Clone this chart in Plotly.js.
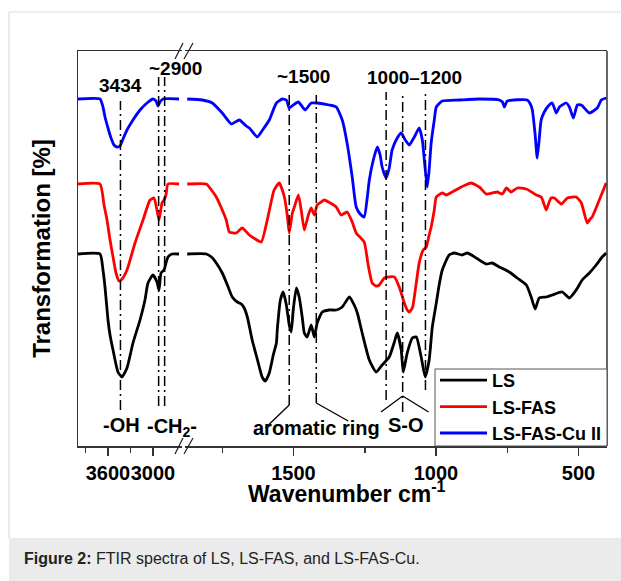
<!DOCTYPE html>
<html>
<head>
<meta charset="utf-8">
<script src="https://cdn.plot.ly/plotly-3.0.1.min.js"></script>
<style>html,body{margin:0;padding:0;background:#fff;}#chart{width:621px;height:581px;}</style>
</head>
<body>
<div id="chart"></div>
<script>
// ---- Data (wavenumber cm-1, relative transmittance in arbitrary units) ----
// Left axis segment (4000 - 2620 cm-1)
const lsHighWn    = [4000,3707,3667,3640,3600,3573,3533,3467,3413,3347,3267,3173,3107,3067,3000,2947,2920,2893,2853,2827,2800,2747,2653];
const lsHighT     = [192,192,176,159,126,111,96,74,69,78,103,126,146,163,171,164,156,173,176,183,189,192,192];
const fasHighWn   = [4000,3707,3653,3613,3573,3533,3493,3453,3413,3347,3240,3133,3040,2987,2947,2920,2880,2853,2827,2800,2653];
const fasHighT    = [262,262,241,226,206,189,173,165,167,176,203,226,246,248,236,226,243,246,251,262,262];
const cuHighWn    = [4000,3707,3667,3640,3600,3560,3520,3480,3440,3400,3347,3267,3173,3080,3000,2960,2933,2907,2867,2653];
const cuHighT     = [347,347,339,329,318,308,301,299,300,307,316,326,336,343,347,345,340,344,347,347];

// Right axis segment (1880 - 400 cm-1)
const lsLowWn  = [1873,1806,1788,1771,1750,1732,1715,1697,1683,1673,1662,1645,1631,1620,1610,1599,1585,1571,1560,1557,1546,1536,1525,1515,1508,1501,1490,1480,1469,1462,1452,1438,1427,1417,1399,1375,1350,1329,1304,1287,1276,1259,1234,1210,1189,1164,1146,1136,1122,1115,1101,1083,1069,1052,1038,1024,1013,999,989,978,954,936,908,890,859,824,803,778,743,715,683,666,652,638,613,592,557,532,508,487,462,438,417,403];
const lsLowT   = [192,192,189,183,173,161,149,144,142,138,129,106,91,79,69,65,73,91,103,116,146,154,141,121,114,136,158,149,128,113,109,121,109,123,134,136,136,139,149,141,133,113,86,74,81,89,104,113,96,74,93,108,109,89,69,86,119,143,161,176,191,193,191,193,188,182,183,179,174,168,161,149,137,148,149,151,154,148,156,166,173,181,189,193];
const fasLowWn = [1873,1806,1788,1771,1753,1736,1725,1701,1680,1655,1634,1613,1592,1568,1550,1532,1522,1515,1504,1497,1483,1473,1462,1448,1438,1427,1417,1403,1392,1371,1350,1333,1312,1294,1280,1252,1238,1224,1210,1199,1181,1146,1129,1111,1101,1094,1083,1076,1059,1045,1034,1024,1017,1006,999,978,964,943,918,897,876,848,824,803,785,767,753,736,715,683,648,631,620,613,603,596,585,560,539,508,490,480,469,459,452,427,403];
const fasLowT  = [262,262,256,249,238,226,214,213,218,211,207,204,226,256,263,249,231,213,233,239,251,236,216,231,238,231,241,244,246,243,239,231,234,224,213,204,181,163,160,161,168,169,159,143,136,134,138,149,183,196,199,211,219,236,249,253,251,254,258,261,263,259,252,253,254,252,258,254,258,257,251,249,241,236,244,248,248,242,248,249,243,233,223,227,229,246,263];
const cuLowWn  = [1873,1820,1785,1750,1718,1690,1666,1655,1627,1606,1585,1560,1539,1525,1515,1501,1483,1459,1438,1417,1375,1350,1329,1312,1294,1280,1266,1252,1241,1234,1220,1206,1196,1189,1175,1164,1154,1136,1122,1108,1094,1076,1059,1048,1041,1031,1024,1017,1006,999,978,918,848,778,767,760,750,680,669,662,652,645,638,631,620,606,592,578,567,543,532,518,504,490,462,434,420,402];
const cuLowT   = [347,346,343,333,322,326,320,318,309,317,326,343,347,346,338,341,344,336,343,343,341,339,326,303,269,239,232,229,249,266,286,299,291,279,268,278,296,308,313,306,301,309,318,306,286,259,276,303,326,339,345,346,347,346,344,339,345,346,342,336,311,288,306,326,334,340,343,333,339,343,339,328,341,341,333,338,346,348];

// Marked bands
const bandOH   = 3434;
const bandCH2  = [2925, 2845];
const bandArom = [1515, 1420];
const bandSO   = [1175, 1117, 1037];

const seriesNames  = ['LS', 'LS-FAS', 'LS-FAS-Cu II'];
const seriesColors = ['#000000', '#ff0000', '#0000ff'];
const leftTicks  = [3600, 3000];
const leftMinor  = [3900, 3300];
const rightTicks = [1500, 1000, 500];
const rightMinor = [1750, 1250, 750];

// ---- Geometry helpers (pixel -> paper for decorations) ----
const PL = 78, PR = 607, PT = 51, PB = 446;
const px = x => (x - PL) / (PR - PL);
const py = y => (PB - y) / (PB - PT);

const lw = 2.8;
const mk = (x, y, i, axis, show) => ({
  x: x, y: y, type: 'scatter', mode: 'lines', xaxis: axis, yaxis: 'y',
  name: seriesNames[i], legendgroup: seriesNames[i], showlegend: show,
  line: {color: seriesColors[i], width: lw, shape: 'spline', smoothing: 0.5},
  hoverinfo: 'x+y+name'
});

const traces = [
  mk(lsHighWn, lsHighT, 0, 'x', true),
  mk(fasHighWn, fasHighT, 1, 'x', true),
  mk(cuHighWn, cuHighT, 2, 'x', true),
  mk(lsLowWn, lsLowT, 0, 'x2', false),
  mk(fasLowWn, fasLowT, 1, 'x2', false),
  mk(cuLowWn, cuLowT, 2, 'x2', false)
];

const DD = '10px,4px,2px,4px';
const vline = (xref, x, y0, y1) => ({type: 'line', xref: xref, yref: 'y', x0: x, x1: x, y0: y0, y1: y1,
  line: {color: '#000', width: 1.5, dash: DD}});
const seg = (xref, xa, ya, xb, yb) => ({type: 'line', xref: xref, yref: 'y', x0: xa, x1: xb, y0: ya, y1: yb,
  line: {color: '#000', width: 1.3}});
const pline = (x0, y0, x1, y1, color, w) => ({type: 'line', xref: 'paper', yref: 'paper',
  x0: px(x0), y0: py(y0), x1: px(x1), y1: py(y1), line: {color: color, width: w}});

const shapes = [
  // frame of the figure and caption band
  {type: 'rect', xref: 'paper', yref: 'paper', x0: px(9), x1: px(630), y0: py(538), y1: py(590),
   fillcolor: '#ebebeb', line: {width: 0}, layer: 'below'},
  pline(9, 12, 9, 538, '#dddddd', 1.2),
  pline(9, 12, 630, 12, '#dddddd', 1.2),
  // right border of plot
  pline(PR, PT, PR, PB, '#333333', 1.5),
  // axis break marks
  pline(175, 59, 183, 43, '#222', 1.2), pline(184, 59, 193, 43, '#222', 1.2),
  pline(175, 454, 183, 438, '#222', 1.2), pline(184, 454, 193, 438, '#222', 1.2),
  // dash-dot band markers
  vline('x', bandOH, 36, 345),
  vline('x', bandCH2[0], 40, 369), vline('x', bandCH2[1], 40, 369),
  vline('x2', bandArom[0], 41, 351), vline('x2', bandArom[1], 43, 351),
  vline('x2', bandSO[0], 46, 354), vline('x2', bandSO[1], 34, 354), vline('x2', bandSO[2], 56, 354),
  // brackets
  seg('x2', bandArom[0], 41, 1599, 18),
  seg('x2', bandArom[1], 43, 1308, 25),
  seg('x2', bandSO[1], 50, 1193, 34),
  seg('x2', bandSO[1], 50, 1026, 34),
  // legend box
  {type: 'rect', xref: 'paper', yref: 'paper', x0: px(435), x1: px(607), y0: py(446), y1: py(369),
   fillcolor: '#ffffff', line: {color: '#555', width: 1}, layer: 'above'}
];

const bf = (s) => ({family: 'Liberation Sans, Arial, sans-serif', size: s, color: '#000', weight: 'bold'});
const ann = (text, xref, x, yref, y, size, xanchor) => ({text: text, xref: xref, x: x, yref: yref, y: y,
  showarrow: false, font: bf(size), xanchor: xanchor || 'center', yanchor: 'middle'});

const annotations = [
  ann('3434', 'x', bandOH, 'y', 361, 19),
  ann('~2900', 'paper', px(175.5), 'paper', py(68.5), 19),
  ann('~1500', 'x2', 1466, 'y', 369.5, 19),
  ann('1000\u20131200', 'x2', 1076, 'y', 369, 19),
  ann('-OH', 'paper', px(121.5), 'paper', py(425), 20),
  ann('-CH<sub>2</sub>-', 'paper', px(145), 'paper', py(427), 20, 'left'),
  ann('aromatic ring', 'paper', px(316), 'paper', py(428), 20),
  ann('S-O', 'paper', px(406), 'paper', py(425), 20),
  ann('Wavenumber cm<sup>-1</sup>', 'paper', px(347), 'paper', py(492), 23),
  {text: '<b>Figure 2:</b> FTIR spectra of LS, LS-FAS, and LS-FAS-Cu.', xref: 'paper', yref: 'paper',
   x: px(22), y: py(558), xanchor: 'left', yanchor: 'middle', showarrow: false,
   font: {family: 'Liberation Sans, Arial, sans-serif', size: 16, color: '#222'}}
];

const xCommon = {
  showline: true, linecolor: '#333', linewidth: 1.5, mirror: true,
  ticks: 'outside', ticklen: 8, tickwidth: 1.5, tickcolor: '#333',
  tickfont: bf(20), tickangle: 0, showgrid: false, zeroline: false, anchor: 'y'
};

const layout = {
  width: 621, height: 581,
  margin: {l: PL, r: 621 - PR, t: PT, b: 581 - PB},
  paper_bgcolor: '#fff', plot_bgcolor: '#fff',
  showlegend: true,
  xaxis: Object.assign({}, xCommon, {
    domain: [0, px(181.5)], range: [4000, 2620], tickmode: 'array', tickvals: leftTicks,
    minor: {tickmode: 'array', tickvals: leftMinor, ticks: 'outside', ticklen: 5, tickwidth: 1.5, tickcolor: '#333'}
  }),
  xaxis2: Object.assign({}, xCommon, {
    domain: [px(185.2), 1], range: [1880, 400], tickmode: 'array', tickvals: rightTicks,
    minor: {tickmode: 'array', tickvals: rightMinor, ticks: 'outside', ticklen: 5, tickwidth: 1.5, tickcolor: '#333'}
  }),
  yaxis: {
    range: [0, 395], showline: true, linecolor: '#333', linewidth: 1.5, ticks: '',
    showticklabels: false, showgrid: false, zeroline: false, anchor: 'x',
    title: {text: 'Transformation [%]', font: bf(24), standoff: 19}
  },
  legend: {
    x: px(435), xanchor: 'left', y: py(452), yanchor: 'bottom',
    bgcolor: 'rgba(0,0,0,0)', borderwidth: 0,
    font: bf(18), itemwidth: 47, tracegroupgap: 0
  },
  shapes: shapes,
  annotations: annotations
};

Plotly.newPlot('chart', traces, layout, {displayModeBar: false, staticPlot: true});
</script>
</body>
</html>
